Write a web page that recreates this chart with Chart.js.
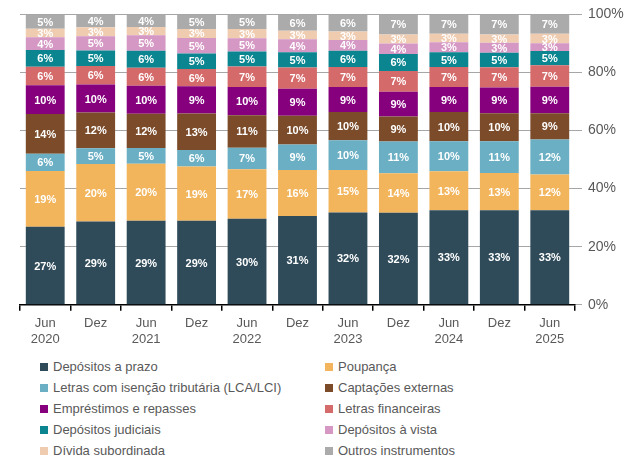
<!DOCTYPE html>
<html>
<head>
<meta charset="utf-8">
<script src="https://cdn.jsdelivr.net/npm/chart.js@4"></script>
<style>
  html, body { margin: 0; padding: 0; background: #fff; }
  body { width: 629px; height: 462px; position: relative; overflow: hidden; font-family: "Liberation Sans", Arial, sans-serif; }
  #chartBox { position: absolute; left: 0; top: 0; width: 629px; height: 352px; }
  #legend { position: absolute; left: 40px; top: 356px; width: 580px; display: grid; grid-template-columns: 285px 285px; row-gap: 0; }
  .item { height: 21px; display: flex; align-items: center; font-size: 13px; color: #595959; white-space: nowrap; }
  .box { width: 8px; height: 8px; margin-right: 5px; flex: none; }
</style>
</head>
<body>
<div id="chartBox"><canvas id="chart"></canvas></div>
<div id="legend"></div>
<script>
const categories = [["Jun", "2020"], "Dez", ["Jun", "2021"], "Dez", ["Jun", "2022"], "Dez",
  ["Jun", "2023"], "Dez", ["Jun", "2024"], "Dez", ["Jun", "2025"]];

const depositosPrazo = [26.9, 28.7, 28.9, 28.9, 29.6, 30.6, 31.8, 31.7, 32.6, 32.6, 32.6];
const poupanca = [19.2, 19.8, 19.7, 18.7, 17.1, 15.8, 14.6, 13.6, 13.4, 12.8, 12.3];
const letrasIsencao = [5.9, 5.4, 5.4, 5.7, 7.4, 8.8, 10.3, 10.9, 10.3, 10.9, 12.0];
const captacoesExternas = [13.7, 12.3, 11.8, 12.6, 11.2, 9.9, 9.7, 8.6, 10.1, 9.7, 9.1];
const emprestimosRepasses = [9.9, 9.7, 9.6, 9.4, 9.7, 9.3, 8.6, 8.6, 8.6, 8.8, 9.1];
const letrasFinanceiras = [6.4, 6.3, 6.2, 5.9, 7.1, 7.3, 6.9, 7.1, 6.9, 7.0, 7.4];
const depositosJudiciais = [5.7, 5.4, 5.9, 5.3, 5.1, 5.3, 5.6, 5.9, 5.1, 5.0, 4.9];
const depositosVista = [4.4, 4.9, 5.3, 5.4, 4.6, 4.4, 3.7, 3.6, 3.4, 3.4, 2.7];
const dividaSubordinada = [3.0, 3.1, 2.9, 3.1, 3.2, 3.0, 2.9, 3.1, 2.9, 2.9, 3.2];
const outrosInstrumentos = [4.9, 4.4, 4.3, 5.0, 5.0, 5.6, 5.9, 6.9, 6.7, 6.9, 6.7];

const yTicks = [0, 20, 40, 60, 80, 100];

const seriesNames = ["Depósitos a prazo", "Poupança", "Letras com isenção tributária (LCA/LCI)",
  "Captações externas", "Empréstimos e repasses", "Letras financeiras", "Depósitos judiciais",
  "Depósitos à vista", "Dívida subordinada", "Outros instrumentos"];
const seriesValues = [depositosPrazo, poupanca, letrasIsencao, captacoesExternas, emprestimosRepasses,
  letrasFinanceiras, depositosJudiciais, depositosVista, dividaSubordinada, outrosInstrumentos];
const seriesColors = ["#2f4b5a", "#f2b55c", "#6aafc3", "#7b4b2a", "#86007e", "#d46a6a",
  "#0b8691", "#d597c3", "#efcbb0", "#ababab"];

const barLabels = {
  id: "barLabels",
  afterDatasetsDraw(chart) {
    const ctx = chart.ctx;
    ctx.save();
    ctx.font = "bold 11px 'Liberation Sans', Arial, sans-serif";
    ctx.fillStyle = "#ffffff";
    ctx.textAlign = "center";
    ctx.textBaseline = "middle";
    chart.data.datasets.forEach((ds, i) => {
      const meta = chart.getDatasetMeta(i);
      meta.data.forEach((bar, j) => {
        const p = bar.getProps(["x", "y", "base"], true);
        ctx.fillText(Math.round(ds.data[j]) + "%", p.x, (p.y + p.base) / 2 + 1);
      });
    });
    ctx.restore();
  }
};

const chart = new Chart(document.getElementById("chart").getContext("2d"), {
  type: "bar",
  data: {
    labels: categories,
    datasets: seriesNames.map((name, i) => ({
      label: name,
      data: seriesValues[i],
      backgroundColor: seriesColors[i],
      borderWidth: 0,
      barPercentage: 0.77,
      categoryPercentage: 1.0,
    })),
  },
  options: {
    responsive: true,
    maintainAspectRatio: false,
    animation: false,
    layout: { padding: { left: 20, top: 10, right: 0, bottom: 0 } },
    plugins: {
      legend: { display: false },
      tooltip: { enabled: false },
    },
    scales: {
      x: {
        stacked: true,
        grid: { offset: true, drawOnChartArea: false, drawTicks: true, tickLength: 6, color: "#000", lineWidth: 1.5 },
        border: { color: "#000", width: 1.5 },
        ticks: { color: "#595959", font: { family: "'Liberation Sans', Arial, sans-serif", size: 13 }, padding: 5, maxRotation: 0, autoSkip: false },
      },
      y: {
        stacked: true,
        position: "right",
        min: 0,
        max: 100,
        afterBuildTicks(scale) { scale.ticks = yTicks.map(v => ({ value: v })); },
        afterFit(scale) { scale.width = 54; },
        grid: { color: "#a6a6a6", lineWidth: 1, drawTicks: true, tickLength: 7 },
        border: { display: false },
        ticks: {
          color: "#595959",
          font: { family: "'Liberation Sans', Arial, sans-serif", size: 14 },
          padding: 6,
          callback: v => v + "%",
        },
      },
    },
  },
  plugins: [barLabels],
});

// legend, two columns, filled row by row
const legend = document.getElementById("legend");
seriesNames.forEach((name, i) => {
  const item = document.createElement("div");
  item.className = "item";
  const box = document.createElement("span");
  box.className = "box";
  box.style.background = seriesColors[i];
  const txt = document.createElement("span");
  txt.textContent = name;
  item.appendChild(box);
  item.appendChild(txt);
  legend.appendChild(item);
});
</script>
</body>
</html>
